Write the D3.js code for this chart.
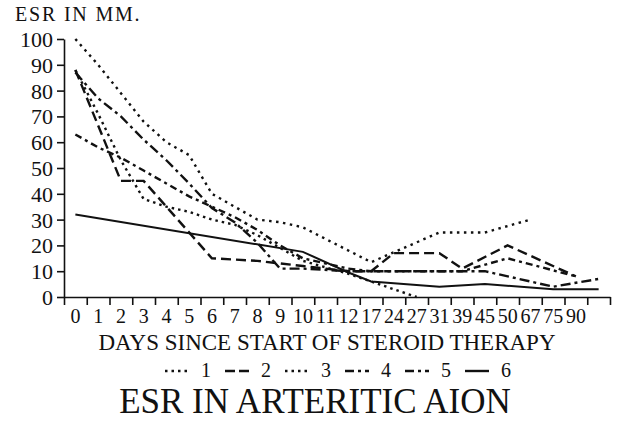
<!DOCTYPE html>
<html lang="en">
<head>
<meta charset="utf-8">
<title>ESR in arteritic AION</title>
<script src="https://cdn.jsdelivr.net/npm/d3@7"></script>
<style>
  body { margin: 0; background: #fff; }
  svg text { font-family: "Liberation Serif", "DejaVu Serif", serif; fill: #111; }
</style>
</head>
<body>
<div id="chart"></div>
<script>
// days since start of steroid therapy (last slot has no label on the original)
var categories = ["0","1","2","3","4","5","6","7","8","9","10","11","12","17","24","27","31","39","45","50","67","75","90",""];

// ESR readings per patient, null where the patient has no reading
var series1 = [100, 90, 79, 68, 60, 55, 40, 35, 30, 29, 27, null, null, 13.5, null, null, 25, null, 25, null, 30, null, null, null];
var series2 = [88, null, 45, 45, null, null, 15, null, 14, null, 12, null, 10, 10, 17, null, 17, 11, null, 20, null, null, 8, null];
var series3 = [88, 71, 53, 38, 35, 33, 30, 28, 24, null, 14, null, 9, 6, null, 0, null, null, null, null, null, null, null, null];
var series4 = [87, 77, 70, 61, 53, 44, 34.5, 29, 21, 11, 11, null, 10, 10, null, null, 10, null, 10, null, null, 4, null, 7];
var series5 = [63, 58, 54, 49, 44, 39, 35, 31, 26, 20, 15, null, 11, 10, null, null, null, 10, null, 15, null, null, 8, null];
var series6 = [32, null, null, null, null, null, null, null, null, null, 17.5, null, 9.5, 6, null, null, 4, null, 5, null, null, 3, null, 3];

var seriesNames = ["1", "2", "3", "4", "5", "6"];
var yTicks = [0, 10, 20, 30, 40, 50, 60, 70, 80, 90, 100];

var width = 640, height = 422;
var dashes = ["2.5,4.5", "10,5", "2.5,4", "10,4,3,4", "7,4,3,4", null];

var svg = d3.select("#chart").append("svg")
  .attr("width", width)
  .attr("height", height);

svg.append("rect").attr("width", width).attr("height", height).attr("fill", "#fff");

var x = d3.scaleBand()
  .domain(d3.range(categories.length))
  .range([64, 610]);

var xEdge = d3.scaleLinear()
  .domain([0, categories.length])
  .range([64, 610]);

var y = d3.scaleLinear()
  .domain([0, 100])
  .range([297, 39]);

// y axis
var yAxis = svg.append("g")
  .attr("transform", "translate(64,0)")
  .call(d3.axisLeft(y).tickValues(yTicks).tickSize(7).tickSizeOuter(0).tickPadding(4));
yAxis.selectAll("text").style("font-size", "22px").attr("dy", "0.34em");

// x axis: tick marks at band edges, labels in the middle of each band
var xTicks = svg.append("g")
  .attr("transform", "translate(0,297)")
  .call(d3.axisBottom(xEdge).tickValues(d3.range(categories.length + 1)).tickFormat("").tickSize(8).tickSizeOuter(0));

var xLabels = svg.append("g")
  .attr("transform", "translate(0,297)")
  .call(d3.axisBottom(x).tickSize(0).tickPadding(12).tickFormat(function(i){ return categories[i]; }));
xLabels.select(".domain").remove();
xLabels.selectAll("text").style("font-size", "20px");

svg.selectAll(".domain, .tick line").attr("stroke", "#111").attr("stroke-width", 1.6);

// lines
var allSeries = [series1, series2, series3, series4, series5, series6];

var line = d3.line()
  .x(function(d){ return x(d.i) + x.bandwidth() / 2; })
  .y(function(d){ return y(d.v); });

allSeries.forEach(function(s, k){
  var pts = s.map(function(v, i){ return {i: i, v: v}; })
    .filter(function(d){ return d.v !== null; });
  svg.append("path")
    .datum(pts)
    .attr("fill", "none")
    .attr("stroke", "#111")
    .attr("stroke-width", k == 5 ? 2 : 2.4)
    .attr("stroke-dasharray", dashes[k])
    .attr("d", line);
});

// titles
svg.append("text")
  .attr("x", 15).attr("y", 21)
  .style("font-size", "20px")
  .style("letter-spacing", "1.8px")
  .text("ESR IN MM.");

svg.append("text")
  .attr("x", 327).attr("y", 350)
  .attr("text-anchor", "middle")
  .style("font-size", "23px")
  .text("DAYS SINCE START OF STEROID THERAPY");

// legend
var legend = svg.append("g").attr("transform", "translate(165,377)");
seriesNames.forEach(function(name, k){
  var g = legend.append("g").attr("transform", "translate(" + (k * 60) + ",0)");
  g.append("line")
    .attr("x1", 0).attr("x2", 24)
    .attr("y1", -6).attr("y2", -6)
    .attr("stroke", "#111")
    .attr("stroke-width", 2.4)
    .attr("stroke-dasharray", k == 1 ? "10,4" : dashes[k] == null ? null : (k == 3 || k == 4 ? "9,4,3,4" : "2.5,4"));
  g.append("text")
    .attr("x", 36).attr("y", 0)
    .style("font-size", "20px")
    .text(name);
});

svg.append("text")
  .attr("x", 315).attr("y", 413)
  .attr("text-anchor", "middle")
  .style("font-size", "35px")
  .text("ESR IN ARTERITIC AION");
</script>
</body>
</html>
